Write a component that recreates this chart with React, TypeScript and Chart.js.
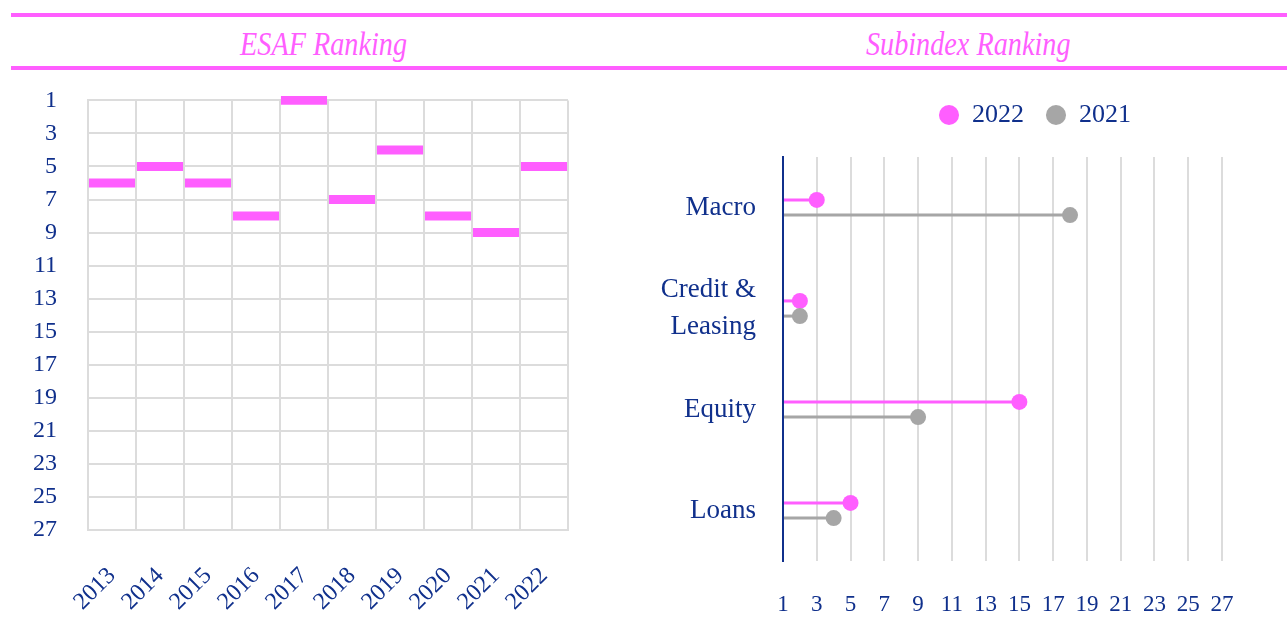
import React, { useEffect, useRef } from "react";
import { Chart, registerables } from "chart.js";

Chart.register(...registerables);

// ---------- data ----------
const YEARS = ["2013", "2014", "2015", "2016", "2017", "2018", "2019", "2020", "2021", "2022"];
const ESAF_RANK = [6, 5, 6, 8, 1, 7, 4, 8, 9, 5];
const ESAF_TICK_STEP = 2;
const ESAF_MIN = 1;
const ESAF_MAX = 27;

const SUB_CATEGORIES: (string | string[])[] = ["Macro", ["Credit &", "Leasing"], "Equity", "Loans"];
const SUB_2022 = [3, 2, 15, 5];
const SUB_2021 = [18, 2, 9, 4];
const SUB_SERIES_LABELS = ["2022", "2021"];
const SUB_X_TICKS = [1, 3, 5, 7, 9, 11, 13, 15, 17, 19, 21, 23, 25, 27];

// ---------- styles ----------
const PINK = "#ff5eff";
const GREY = "#a6a6a6";
const GRID = "#dcdcdc";
const NAVY = "#10308c";
const SERIF = "'Liberation Serif', 'DejaVu Serif', serif";
const BAR_HALF = 0.27;
const DOT_RADIUS = 8;

const legendSpacer = {
  id: "legendSpacer",
  beforeInit(chart: any) {
    const legend = chart.legend;
    if (!legend) return;
    const origFit = legend.fit;
    legend.fit = function () {
      origFit.call(this);
      this.height += 19;
    };
  },
};

const lollipopDots = {
  id: "lollipopDots",
  afterDatasetsDraw(chart: any) {
    const ctx = chart.ctx;
    chart.data.datasets.forEach((ds: any, i: number) => {
      const meta = chart.getDatasetMeta(i);
      if (meta.hidden) return;
      meta.data.forEach((el: any) => {
        ctx.save();
        ctx.fillStyle = ds.backgroundColor;
        ctx.beginPath();
        ctx.arc(el.x, el.y, DOT_RADIUS, 0, Math.PI * 2);
        ctx.fill();
        ctx.restore();
      });
    });
  },
};

function EsafChart() {
  const ref = useRef<HTMLCanvasElement | null>(null);
  useEffect(() => {
    if (!ref.current) return;
    const chart = new Chart(ref.current, {
      type: "bar",
      data: {
        labels: YEARS,
        datasets: [
          {
            data: ESAF_RANK.map((r) => [r - BAR_HALF, r + BAR_HALF]) as any,
            backgroundColor: PINK,
            borderWidth: 0,
            categoryPercentage: 1,
            barPercentage: 0.96,
            clip: false as any,
          },
        ],
      },
      options: {
        responsive: false,
        animation: false,
        layout: { padding: { top: 0, right: 72, left: 0, bottom: 0 } },
        plugins: { legend: { display: false }, tooltip: { enabled: false } },
        scales: {
          x: {
            grid: { color: GRID, lineWidth: 2, offset: true, drawTicks: false },
            border: { color: GRID, width: 2 },
            ticks: {
              color: NAVY,
              font: { family: SERIF, size: 24 },
              minRotation: 45,
              maxRotation: 45,
              padding: 32,
              autoSkip: false,
            },
            afterFit: (s: any) => {
              s.height = 88;
            },
          },
          y: {
            reverse: true,
            min: ESAF_MIN,
            max: ESAF_MAX,
            ticks: {
              stepSize: ESAF_TICK_STEP,
              color: NAVY,
              font: { family: SERIF, size: 24 },
              padding: 31,
              autoSkip: false,
            },
            grid: { color: GRID, lineWidth: 2, drawTicks: false },
            border: { color: GRID, width: 2 },
            afterFit: (s: any) => {
              s.width = 88;
            },
          },
        },
      } as any,
    });
    return () => chart.destroy();
  }, []);
  return <canvas ref={ref} width={640} height={563} style={{ display: "block", width: 640, height: 563 }} />;
}

function SubindexChart() {
  const ref = useRef<HTMLCanvasElement | null>(null);
  useEffect(() => {
    if (!ref.current) return;
    const chart = new Chart(ref.current, {
      type: "bar",
      data: {
        labels: SUB_CATEGORIES as any,
        datasets: [
          { label: SUB_SERIES_LABELS[0], data: SUB_2022, backgroundColor: PINK, borderWidth: 0 },
          { label: SUB_SERIES_LABELS[1], data: SUB_2021, backgroundColor: GREY, borderWidth: 0 },
        ],
      },
      options: {
        indexAxis: "y",
        responsive: false,
        animation: false,
        layout: { padding: { top: 5, right: 0, left: 0, bottom: 0 } },
        datasets: { bar: { categoryPercentage: 0.3, barPercentage: 0.2, base: 1 } },
        plugins: {
          legend: {
            position: "top",
            fullSize: false,
            labels: {
              usePointStyle: true,
              pointStyle: "circle",
              boxWidth: 20,
              boxHeight: 14.2,
              padding: 22,
              color: NAVY,
              font: { family: SERIF, size: 26 },
            },
          },
          tooltip: { enabled: false },
        },
        scales: {
          x: {
            type: "linear",
            min: 1,
            max: 30.85,
            afterBuildTicks: (s: any) => {
              s.ticks = SUB_X_TICKS.map((v) => ({ value: v }));
            },
            ticks: { color: NAVY, font: { family: SERIF, size: 23 }, padding: 30, autoSkip: false },
            grid: { color: GRID, lineWidth: 2, drawTicks: false },
            border: { display: false },
            afterFit: (s: any) => {
              s.height = 57;
            },
          },
          y: {
            grid: { display: false, drawTicks: false },
            border: { color: NAVY, width: 2 },
            ticks: { color: NAVY, font: { family: SERIF, size: 27, lineHeight: 1.35 }, padding: 27 },
            afterFit: (s: any) => {
              s.width = 143;
            },
          },
        },
      } as any,
      plugins: [legendSpacer, lollipopDots],
    });
    return () => chart.destroy();
  }, []);
  return <canvas ref={ref} width={647} height={543} style={{ display: "block", width: 647, height: 543 }} />;
}

const titleStyle: React.CSSProperties = {
  position: "absolute",
  top: 24,
  height: 40,
  lineHeight: "40px",
  textAlign: "center",
  color: PINK,
  fontFamily: SERIF,
  fontStyle: "italic",
  fontSize: 34,
  whiteSpace: "nowrap",
};

const innerTitle: React.CSSProperties = {
  display: "inline-block",
  transform: "scaleX(0.83)",
};

export default function App() {
  return (
    <div style={{ position: "absolute", left: 0, top: 0, width: 1287, height: 618, background: "#fff", overflow: "hidden" }}>
      <div style={{ position: "absolute", left: 11, top: 13, width: 1276, height: 4, background: PINK }} />
      <div style={{ position: "absolute", left: 11, top: 66, width: 1276, height: 4, background: PINK }} />
      <div style={{ ...titleStyle, left: 0, width: 648 }}>
        <span style={innerTitle}>ESAF Ranking</span>
      </div>
      <div style={{ ...titleStyle, left: 648, width: 640 }}>
        <span style={innerTitle}>Subindex Ranking</span>
      </div>
      <div style={{ position: "absolute", left: 0, top: 55 }}>
        <EsafChart />
      </div>
      <div style={{ position: "absolute", left: 640, top: 75 }}>
        <SubindexChart />
      </div>
    </div>
  );
}
